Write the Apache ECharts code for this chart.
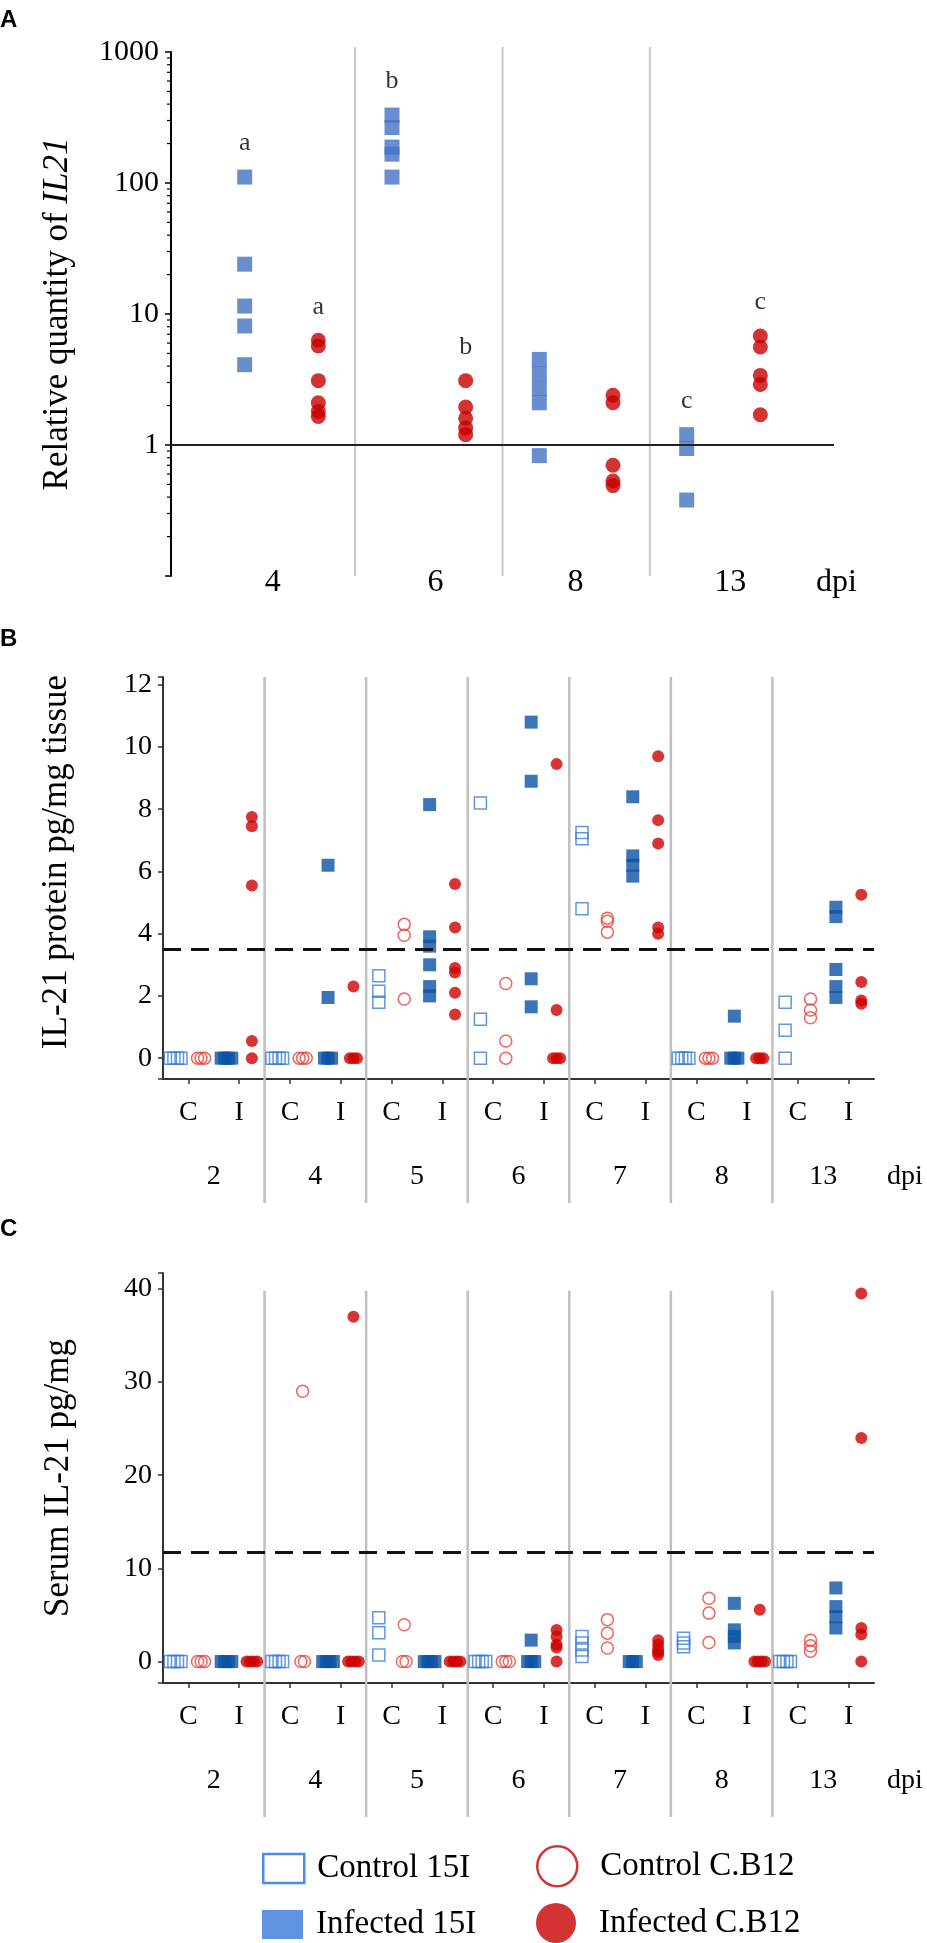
<!DOCTYPE html>
<html>
<head>
<meta charset="utf-8">
<script src="https://cdn.jsdelivr.net/npm/echarts@6/dist/echarts.min.js"></script>
<style>
  html, body { margin: 0; padding: 0; background: #fff; overflow: hidden; }
  #chart { width: 927px; height: 1943px; }
</style>
</head>
<body>
<div id="chart"></div>
<script>
// ---- panel A : relative quantity of IL21, one list per dpi ----
const aDpi = ['4', '6', '8', '13'];
const aInfected15I = [
  [111, 24, 11.5, 8.1, 4.1],
  [330, 265, 188, 166, 111],
  [4.5, 3.5, 2.7, 2.1, 0.83],
  [1.2, 0.94, 0.38]
];
const aInfectedCB12 = [
  [6.3, 5.7, 3.1, 2.1, 1.8, 1.65],
  [3.1, 1.95, 1.6, 1.35, 1.2],
  [2.4, 2.1, 0.7, 0.53, 0.49],
  [6.8, 5.6, 3.4, 2.9, 1.7]
];
const aLetters15I = ['a', 'b', '', 'c'];
const aLettersCB12 = ['a', 'b', '', 'c'];

// ---- panels B and C : dpi groups, C = control, I = infected ----
const bcDpi = ['2', '4', '5', '6', '7', '8', '13'];

const bControl15I = [[0, 0, 0, 0], [0, 0, 0, 0], [2.65, 2.15, 1.8], [8.2, 1.25, 0], [7.25, 7.05, 4.8], [0, 0, 0, 0], [1.8, 0.9, 0]];
const bControlCB12 = [[0, 0, 0], [0, 0, 0], [4.3, 3.95, 1.9], [2.4, 0.55, 0], [4.5, 4.4, 4.05], [0, 0, 0], [1.9, 1.55, 1.3]];
const bInfected15I = [[0, 0, 0, 0], [6.2, 1.95, 0, 0, 0], [8.15, 3.9, 3.6, 3.0, 2.3, 2.0], [10.8, 8.9, 2.55, 1.65], [8.4, 6.5, 6.2, 5.85], [1.35, 0, 0, 0], [4.85, 4.55, 2.85, 2.3, 1.95]];
const bInfectedCB12 = [[7.75, 7.45, 5.55, 0.55, 0], [2.3, 0, 0, 0], [5.6, 4.2, 2.9, 2.75, 2.1, 1.4], [9.45, 1.55, 0, 0, 0], [9.7, 7.65, 6.9, 4.2, 4.0], [0, 0, 0], [5.25, 2.45, 1.85, 1.75]];
const bCutoff = 3.5;

const cControl15I = [[0, 0, 0, 0], [0, 0, 0, 0], [4.7, 3.1, 0.7], [0, 0, 0, 0], [2.7, 2.0, 1.25, 0.55], [2.5, 2.0, 1.6], [0, 0, 0, 0]];
const cControlCB12 = [[0, 0, 0], [29, 0, 0], [3.95, 0, 0], [0, 0, 0], [4.5, 3.05, 1.45], [6.8, 5.2, 2.05], [2.3, 1.7, 1.1]];
const cInfected15I = [[0, 0, 0, 0], [0, 0, 0, 0], [0, 0, 0, 0], [2.3, 0, 0, 0], [0, 0, 0], [6.25, 3.4, 2.7, 2.0], [7.9, 5.9, 4.8, 3.6]];
const cInfectedCB12 = [[0, 0, 0, 0], [37, 0, 0, 0, 0], [0, 0, 0, 0], [3.4, 2.7, 1.8, 1.5, 0], [2.3, 1.8, 1.3, 1.0, 0.7], [5.55, 0, 0, 0, 0], [39.5, 24, 3.6, 2.9, 0]];
const cCutoff = 11.7;

// ---- layout ----
const FONT = 'Liberation Serif';
const BLUE_A = '#4472C4', RED_A = '#C80000';
const BLUE_OPEN = '#3A7DD8', RED_OPEN = '#E8403A', BLUE_FILL = '#0B52A5', RED_FILL = '#D00000';
const A_LABEL_AT = [1.38, 3.59, 5.49, 7.59];
const A_SEPS = [2.5, 4.5, 6.5];
const CI_AT = [1, 3, 5, 7, 9, 11, 13, 15, 17, 19, 21, 23, 25, 27];
const NUM_AT = [2, 6, 10, 14, 18, 22, 26];
const BC_SEPS = [4, 8, 12, 16, 20, 24];
const TIE_STEP = 0.14;

// x of every point = group start + slot; equal values in a group are spread sideways
function spread(groups, per, slot, step) {
  const out = [];
  groups.forEach((vals, g) => {
    const n = {}, seen = {};
    vals.forEach(v => { n[v] = (n[v] || 0) + 1; });
    vals.forEach(v => {
      const i = seen[v] = (seen[v] === undefined ? 0 : seen[v] + 1);
      out.push([g * per + slot + (i - (n[v] - 1) / 2) * step, v]);
    });
  });
  return out;
}

function separators(xi, yi, xs, topVal, topPad, ext, width, color) {
  return {
    type: 'custom', xAxisIndex: xi, yAxisIndex: yi, silent: true, clip: false, z: 1,
    data: xs.map(x => [x, topVal]),
    renderItem(params, api) {
      const cs = params.coordSys;
      const p = api.coord([api.value(0), api.value(1)]);
      return {
        type: 'line',
        shape: { x1: p[0], y1: p[1] - topPad, x2: p[0], y2: cs.y + cs.height + ext },
        style: { stroke: color, lineWidth: width }
      };
    }
  };
}

function cutLine(value, color, width, type) {
  return {
    silent: true, symbol: ['none', 'none'], label: { show: false }, animation: false,
    lineStyle: { color: color, width: width, type: type },
    data: [{ yAxis: value }]
  };
}

function bcSeries(xi, yi, sets, cutoff) {
  const defs = [
    ['Control 15I', sets[0], 0.5, 'rect', 12, { color: 'rgba(255,255,255,0)', borderColor: BLUE_OPEN, borderWidth: 1.5 }],
    ['Control C.B12', sets[1], 1.5, 'circle', 12, { color: 'rgba(255,255,255,0)', borderColor: RED_OPEN, borderWidth: 1.5 }],
    ['Infected 15I', sets[2], 2.5, 'rect', 13, { color: BLUE_FILL }],
    ['Infected C.B12', sets[3], 3.5, 'circle', 12, { color: RED_FILL }]
  ];
  return defs.map((d, i) => {
    const s = {
      type: 'scatter', name: d[0], xAxisIndex: xi, yAxisIndex: yi, z: 3,
      symbol: d[3], symbolSize: d[4], itemStyle: d[5],
      emphasis: { disabled: true },
      data: spread(d[1], 4, d[2], TIE_STEP)
    };
    if (i === 0) s.markLine = cutLine(cutoff, '#111', 3, [18, 10]);
    return s;
  });
}

function lettersData(groups, letters, slot) {
  const out = [];
  groups.forEach((vals, g) => {
    if (letters[g]) out.push([g * 2 + slot, Math.max(...vals), letters[g]]);
  });
  return out;
}

const aMinor = [];
[0.1, 1, 10, 100].forEach(d => { for (let m = 2; m <= 9; m++) aMinor.push(m * d); });

const labelStyle = { fontFamily: FONT, color: '#000' };
const intLabel = v => (v >= 0 && Math.abs(v - Math.round(v)) < 1e-9) ? String(Math.round(v)) : '';

function ciAxis(grid) {
  return {
    gridIndex: grid, type: 'value', position: 'bottom', min: 0, max: 28,
    axisLine: { show: true, onZero: false, lineStyle: { color: '#333', width: 2 } },
    axisTick: { show: true, customValues: CI_AT, length: 5, lineStyle: { color: '#333', width: 1.5 } },
    axisLabel: Object.assign({ customValues: CI_AT, formatter: v => (((v - 1) / 2) % 2 === 0 ? 'C' : 'I'), margin: 20, fontSize: 28 }, labelStyle),
    splitLine: { show: false }
  };
}
function numAxis(grid) {
  return {
    gridIndex: grid, type: 'value', position: 'bottom', min: 0, max: 28, offset: 98,
    axisLine: { show: false, onZero: false }, axisTick: { show: false }, splitLine: { show: false },
    axisLabel: Object.assign({ customValues: NUM_AT, formatter: v => bcDpi[(v - 2) / 4], verticalAlign: 'middle', margin: 0, fontSize: 28 }, labelStyle),
    name: 'dpi', nameLocation: 'end', nameGap: 13,
    nameTextStyle: Object.assign({ fontSize: 28, verticalAlign: 'middle' }, labelStyle)
  };
}
function bcYAxis(grid, min, max, split, name, gap, pad) {
  return {
    gridIndex: grid, type: 'value', position: 'left', min: min, max: max, splitNumber: split,
    axisLine: { show: true, onZero: false, lineStyle: { color: '#333', width: 2 } },
    axisTick: { show: true, length: 5, lineStyle: { color: '#333', width: 1.5 } },
    axisLabel: Object.assign({ formatter: intLabel, margin: 11, fontSize: 28 }, labelStyle),
    splitLine: { show: false },
    name: name, nameLocation: 'middle', nameRotate: 90, nameGap: gap,
    nameTextStyle: Object.assign({ fontSize: 35, padding: pad }, labelStyle)
  };
}

function legendItem(left, top, size, name, icon, style, textPad) {
  return {
    left: left, top: top, orient: 'horizontal', padding: 0,
    itemWidth: size[0], itemHeight: size[1], selectedMode: false, symbolKeepAspect: false,
    textStyle: { fontFamily: FONT, fontSize: 33, color: '#000', padding: [0, 0, 0, textPad] },
    data: [{ name: name, icon: icon, itemStyle: style }]
  };
}

const chart = echarts.init(document.getElementById('chart'), null, { renderer: 'canvas' });

const option = {
  animation: false,
  backgroundColor: '#fff',
  textStyle: { fontFamily: FONT },
  graphic: [
    { type: 'text', left: 0, top: 8, style: { text: 'A', font: 'bold 24px "Liberation Sans"', fill: '#000' } },
    { type: 'text', left: 0, top: 627, style: { text: 'B', font: 'bold 24px "Liberation Sans"', fill: '#000' } },
    { type: 'text', left: 0, top: 1217, style: { text: 'C', font: 'bold 24px "Liberation Sans"', fill: '#000' } }
  ],
  grid: [
    { left: 171, top: 52, width: 663, height: 524 },
    { left: 163, top: 677, width: 711, height: 402 },
    { left: 163, top: 1273, width: 711, height: 410 }
  ],
  xAxis: [
    {
      gridIndex: 0, type: 'value', position: 'bottom', min: 0, max: 9, offset: 7,
      axisLine: { show: false, onZero: false }, axisTick: { show: false }, splitLine: { show: false },
      axisLabel: Object.assign({ customValues: A_LABEL_AT, formatter: v => aDpi[A_LABEL_AT.indexOf(v)], verticalAlign: 'middle', margin: 0, fontSize: 32 }, labelStyle),
      name: 'dpi', nameLocation: 'end', nameGap: -18,
      nameTextStyle: Object.assign({ fontSize: 32, verticalAlign: 'middle' }, labelStyle)
    },
    ciAxis(1), numAxis(1),
    ciAxis(2), numAxis(2)
  ],
  yAxis: [
    {
      gridIndex: 0, type: 'log', position: 'left', logBase: 10, min: 0.1, max: 1000,
      axisLine: { show: true, lineStyle: { color: '#000', width: 2 } },
      axisTick: { show: true, length: 6, lineStyle: { color: '#000', width: 1.5 } },
      axisLabel: Object.assign({ formatter: v => (v >= 1 ? String(Math.round(v)) : ''), margin: 12, fontSize: 30 }, labelStyle),
      splitLine: { show: false },
      name: '{n|Relative quantity of }{i|IL21}', nameLocation: 'middle', nameRotate: 90, nameGap: 96,
      nameTextStyle: {
        fontSize: 35, fontFamily: FONT, color: '#000',
        rich: {
          n: { fontSize: 35, fontFamily: FONT, color: '#000' },
          i: { fontSize: 35, fontFamily: FONT, color: '#000', fontStyle: 'italic' }
        }
      }
    },
    bcYAxis(1, -0.67, 12.25, 6, 'IL-21 protein pg/mg tissue', 89, [0, 0, 0, 32]),
    bcYAxis(2, -2.3, 41.7, 5, 'Serum IL-21 pg/mg', 87, 0)
  ],
  legend: [
    legendItem(262, 1852, [41, 29], 'Control 15I', 'rect', { color: 'rgba(255,255,255,0)', borderColor: '#1E6FE0', borderWidth: 2.5 }, 8),
    legendItem(262, 1908, [41, 29], 'Infected 15I', 'rect', { color: '#3579DB', borderWidth: 0 }, 8),
    legendItem(536, 1845, [46, 40], 'Control C.B12', 'circle', { color: 'rgba(255,255,255,0)', borderColor: '#C80000', borderWidth: 2.5 }, 15),
    legendItem(536, 1903, [46, 40], 'Infected C.B12', 'circle', { color: '#C80000', borderWidth: 0 }, 15)
  ],
  series: [
    // panel A
    separators(0, 0, A_SEPS, 1000, 5, 0, 2, '#C8C8C8'),
    {
      type: 'custom', xAxisIndex: 0, yAxisIndex: 0, silent: true, clip: false, z: 2,
      data: aMinor.map(v => [0, v]),
      renderItem(params, api) {
        const p = api.coord([0, api.value(1)]);
        return { type: 'line', shape: { x1: p[0] - 4, y1: p[1], x2: p[0], y2: p[1] }, style: { stroke: '#000', lineWidth: 1.2 } };
      }
    },
    {
      type: 'scatter', name: 'Infected 15I', xAxisIndex: 0, yAxisIndex: 0, z: 3,
      symbol: 'rect', symbolSize: 15, itemStyle: { color: BLUE_A }, emphasis: { disabled: true },
      data: spread(aInfected15I, 2, 1, 0),
      markLine: cutLine(1, '#222', 2, 'solid')
    },
    {
      type: 'scatter', name: 'Infected C.B12', xAxisIndex: 0, yAxisIndex: 0, z: 3,
      symbol: 'circle', symbolSize: 15, itemStyle: { color: RED_A }, emphasis: { disabled: true },
      data: spread(aInfectedCB12, 2, 2, 0)
    },
    {
      type: 'scatter', xAxisIndex: 0, yAxisIndex: 0, silent: true, z: 4,
      symbolSize: 1, itemStyle: { color: 'rgba(0,0,0,0)' },
      data: lettersData(aInfected15I, aLetters15I, 1).concat(lettersData(aInfectedCB12, aLettersCB12, 2)),
      label: { show: true, position: 'top', distance: 20, formatter: p => p.data[2], fontSize: 26, fontFamily: FONT, color: '#000' }
    },
    // panel B
    separators(1, 1, BC_SEPS, 12.25, 0, 124, 2.5, '#BFBFBF'),
    ...bcSeries(1, 1, [bControl15I, bControlCB12, bInfected15I, bInfectedCB12], bCutoff),
    // panel C
    separators(3, 2, BC_SEPS, 39.8, 0, 134, 2.5, '#BFBFBF'),
    ...bcSeries(3, 2, [cControl15I, cControlCB12, cInfected15I, cInfectedCB12], cCutoff)
  ]
};

chart.setOption(option);
</script>
</body>
</html>
